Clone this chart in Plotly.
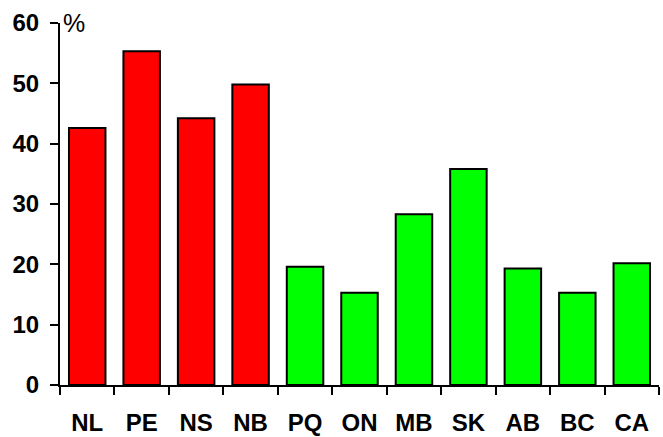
import plotly.graph_objects as go

# Provinces and national average
provinces = ["NL", "PE", "NS", "NB", "PQ", "ON", "MB", "SK", "AB", "BC", "CA"]
percent = [42.6, 55.3, 44.2, 49.8, 19.6, 15.3, 28.3, 35.8, 19.3, 15.3, 20.2]
bar_colors = ["#FF0000"] * 4 + ["#00FF00"] * 7
y_ticks = [0, 10, 20, 30, 40, 50, 60]

FONT = "Liberation Sans, Arial, sans-serif"

fig = go.Figure(
    go.Bar(
        x=provinces,
        y=percent,
        marker=dict(color=bar_colors, line=dict(color="black", width=2)),
    )
)

fig.update_layout(
    width=663,
    height=437,
    margin=dict(l=60, r=4, t=23, b=52),
    paper_bgcolor="white",
    plot_bgcolor="white",
    bargap=0.33,
    showlegend=False,
    font=dict(family=FONT, color="black"),
    annotations=[
        dict(
            text="%",
            xref="paper",
            yref="paper",
            x=0.002,
            y=1.0,
            xanchor="left",
            yanchor="middle",
            showarrow=False,
            font=dict(family=FONT, size=25, color="black"),
        )
    ],
)

fig.update_xaxes(
    range=[-0.5, 10.5],
    automargin=False,
    showline=True,
    linecolor="black",
    linewidth=2,
    ticks="outside",
    tickson="boundaries",
    ticklen=8,
    tickwidth=2,
    tickcolor="black",
    ticklabelstandoff=15,
    tickfont=dict(family=FONT, size=24, color="black", weight="bold"),
    showgrid=False,
    zeroline=False,
)

fig.update_yaxes(
    range=[0, 60],
    automargin=False,
    tickvals=y_ticks,
    showline=True,
    linecolor="black",
    linewidth=2,
    ticks="outside",
    ticklen=8,
    tickwidth=2,
    tickcolor="black",
    ticklabelstandoff=6,
    tickfont=dict(family=FONT, size=24, color="black", weight="bold"),
    showgrid=False,
    zeroline=False,
)

fig.write_html("out.html")
